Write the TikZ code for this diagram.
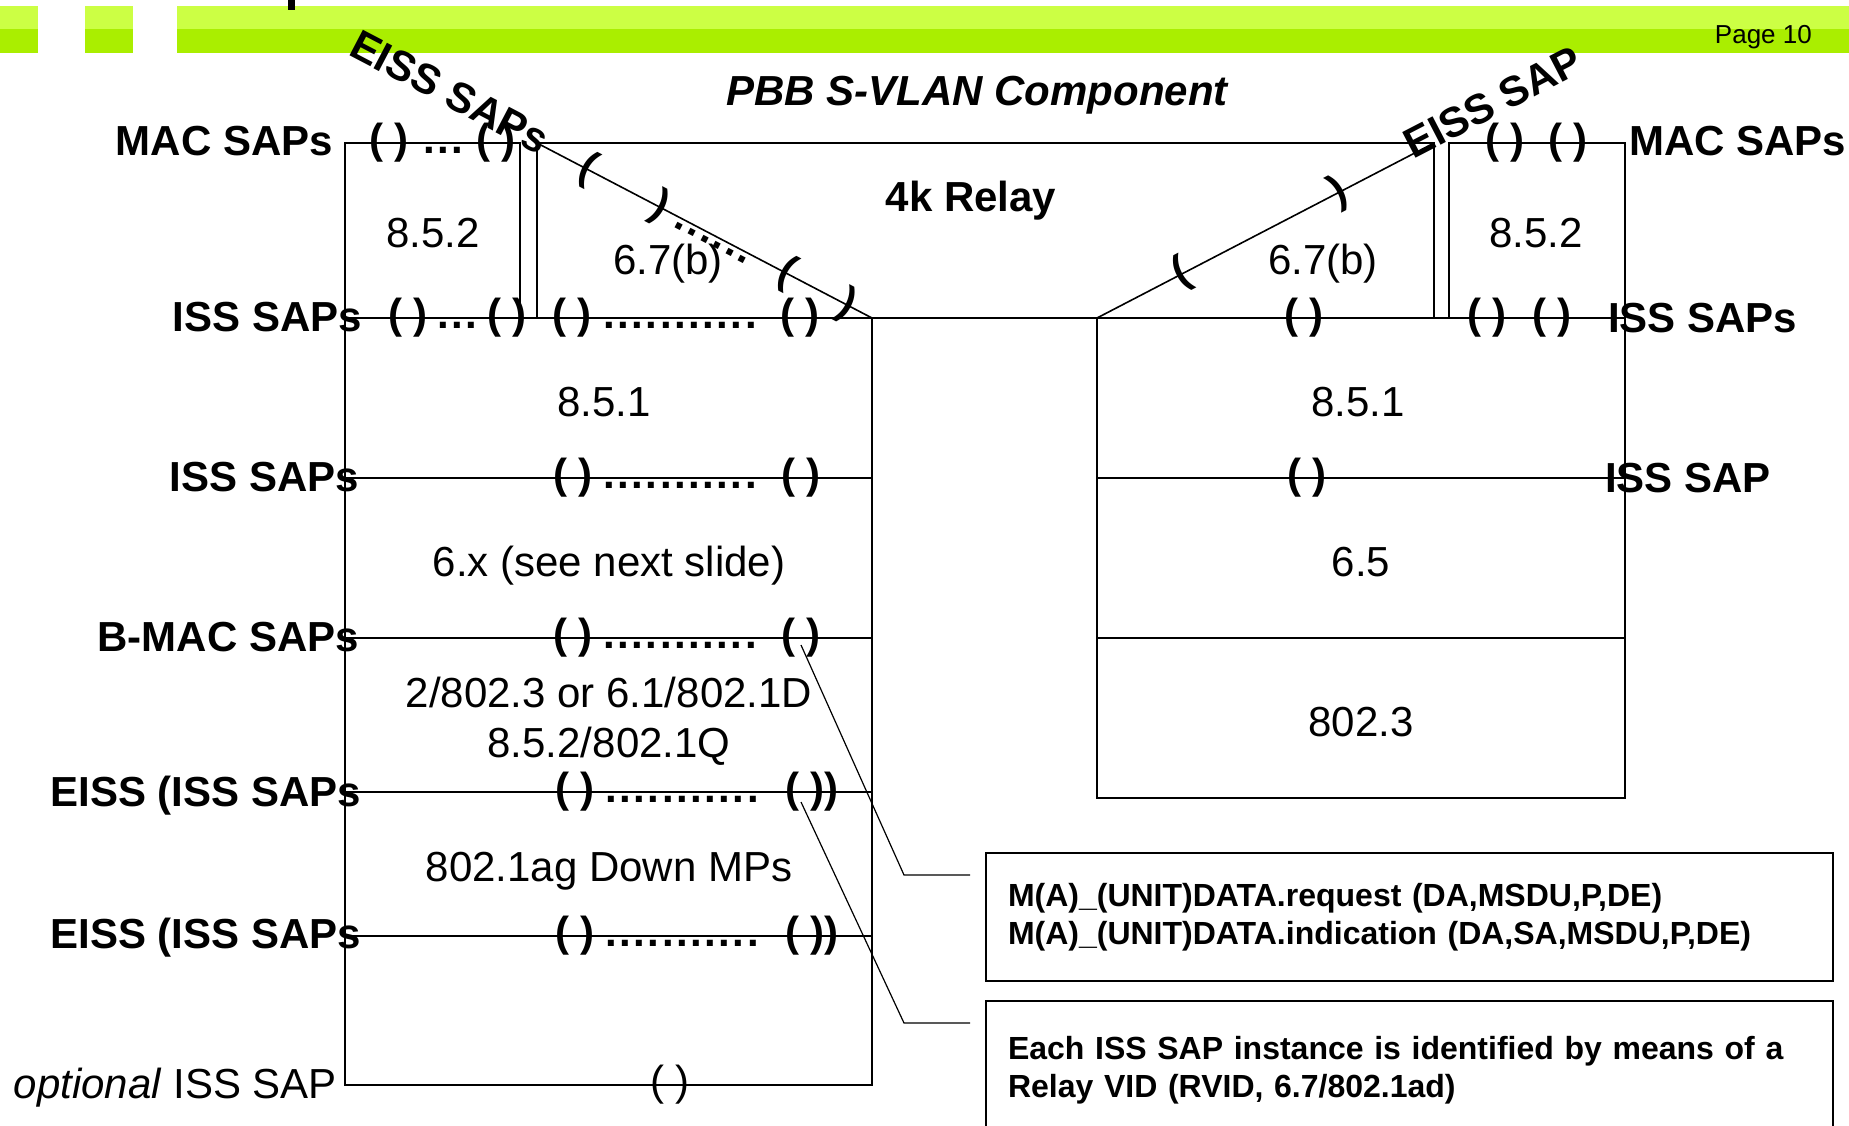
\documentclass[tikz,border=0pt]{standalone}
\usepackage{fontspec}
\setmainfont{Liberation Sans}
\usetikzlibrary{calc}
\definecolor{BarLime}{RGB}{204,255,68}
\definecolor{BarGreen}{RGB}{170,238,0}
\newcommand{\sapdots}[1]{\vphantom{(}.\foreach \k in {2,...,#1}{\kern2.5pt.}}

\begin{document}
\begin{tikzpicture}[x=1pt, y=-1pt,
	lbl/.style={font=\fontsize{42}{50}\selectfont\bfseries, inner sep=0pt},
	txt/.style={font=\fontsize{42}{50}\selectfont, inner sep=0pt},
	sap/.style={font=\fontsize{42}{50}\selectfont\bfseries, inner sep=0pt},
	ln/.style={line width=2.2pt},
	dg/.style={line width=1.6pt},
	cl/.style={line width=1.2pt},
	note/.style={draw, line width=2pt, anchor=north west, align=left,
		font=\fontsize{32}{37.7}\selectfont\bfseries, text width=803pt,
		inner xsep=22pt, inner ysep=0pt}]

	\useasboundingbox (0,0) rectangle (1849,1125);
	\clip (0,0) rectangle (1849,1125);

	% kopfleiste
	\foreach \a/\b in {0/38, 85/133, 177/1849}{
		\fill[BarLime] (\a,6) rectangle (\b,29);
		\fill[BarGreen] (\a,29) rectangle (\b,53);}
	\fill (288,0) rectangle (295,10);
	\node[txt, font=\fontsize{26}{30}\selectfont, anchor=base east] (page) at (1812,43) {Page 10};

	% relay-ecken
	\coordinate (rlNW) at (537,143);
	\coordinate (rlNE) at (1434,143);
	\coordinate (rlSW) at (872,318);
	\coordinate (rlSE) at (1097,318);

	% kaesten
	\draw[ln] (345,318) -- (345,143) -- (520,143) -- (520,318);
	\draw[ln] (537,318) -- (rlNW) -- (rlNE) -- (1434,318);
	\draw[ln] (1449,318) -- (1449,143) -- (1625,143) -- (1625,798) -- (1097,798) -- (rlSE);
	\draw[ln] (345,318) -- (1625,318);
	\draw[ln] (345,318) -- (345,1085) -- (872,1085) -- (rlSW);
	\foreach \y in {478, 638, 792, 936}{\draw[ln] (345,\y) -- (872,\y);}
	\foreach \y in {478, 638}{\draw[ln] (1097,\y) -- (1625,\y);}

	% schraege EISS-Zugaenge
	\draw[dg] (rlNW) -- (rlSW)
		node[sap, sloped, pos=0.152] (dlA) {(}
		node[sap, sloped, pos=0.367] (dlB) {)}
		node[sap, sloped, pos=0.53] (dlD) {\sapdots{6}}
		node[sap, sloped, pos=0.746] (dlC) {(}
		node[sap, sloped, pos=0.925] (dlE) {)};
	\draw[dg] (rlSE) -- (rlNE)
		node[sap, sloped, pos=0.252] (drA) {(}
		node[sap, sloped, pos=0.716] (drB) {)};
	\node[lbl, rotate=-27.6] (eissL) at (450,92) {EISS SAPs};
	\node[lbl, rotate=27.4] (eissR) at (1493,102) {EISS SAP};

	% titel und schichten
	\node[lbl, font=\fontsize{42}{50}\selectfont\bfseries\itshape, anchor=base] (title) at (977,105) {PBB S-VLAN Component};
	\node[lbl, anchor=base] (relay) at (971,211) {4k Relay};
	\foreach \n/\x/\y/\t in {lA/433/247/8.5.2, lB/668/274/6.7(b), rB/1323/274/6.7(b), rA/1536/247/8.5.2,
		lC/604/416/8.5.1, rC/1358/416/8.5.1, lE/609/576/6.x (see next slide), rE/1361/576/6.5,
		lF/609/707/2\slash 802.3 or 6.1\slash 802.1D, lG/609/757/8.5.2\slash 802.1Q,
		rF/1361/736/802.3, lH/609/881/802.1ag Down MPs}
		{\node[txt, anchor=base] (\n) at (\x,\y) {\t};}

	% SAP-Beschriftungen
	\foreach \n/\x/\y/\t in {mL/333/155/MAC SAPs, iL/362/331/ISS SAPs, jL/359/491/ISS SAPs,
		bL/359/651/B-MAC SAPs, eL/361/806/EISS (ISS SAPs, fL/361/948/EISS (ISS SAPs}
		{\node[lbl, anchor=base east] (\n) at (\x,\y) {\t};}
	\node[txt, anchor=base east] (oL) at (337,1098) {\textit{optional} ISS SAP};
	\node[lbl, anchor=base west] (mR) at (1629,155) {MAC SAPs};
	\node[lbl, anchor=base west] (iR) at (1608,332) {ISS SAPs};
	\node[lbl, anchor=base west] (jR) at (1605,492) {ISS SAP};

	% SAP-Klammern
	\foreach \n/\x/\y in {macA/389/143, macB/496/143, issA/408/318, issB/507/318, issC/572/318,
		issD/800/318, relA/573/478, relB/801/478, bmacL/573/638, bmacR/801/638,
		eissaL/575/792, eissbL/575/936, rmacA/1505/143, rmacB/1568/143,
		rissA/1304/318, rissB/1487/318, rissC/1552/318, rsapS/1307/478}
		{\node[sap] (\n) at (\x,\y) {( )};}
	\node[sap] (eissaR) at (812,792) {( ))};
	\node[sap] (eissbR) at (812,936) {( ))};
	\node[txt] (optS) at (670,1085) {( )};
	\node[sap] (macD) at (443,143) {\sapdots{3}};
	\node[sap] (issE) at (457,318) {\sapdots{3}};
	\foreach \n/\x/\y in {issF/680/318, relD/680/478, bmacD/680/638, eissaD/682/792, eissbD/682/936}
		{\node[sap] (\n) at (\x,\y) {\sapdots{11}};}

	% hinweise
	\node[note, minimum height=128pt] (req) at (985,852)
		{M(A)\_(UNIT)DATA.request (DA,MSDU,P,DE)\\M(A)\_(UNIT)DATA.indication (DA,SA,MSDU,P,DE)};
	\node[note, minimum height=138pt] (rid) at (985,1000)
		{Each ISS SAP instance is identified by means of a\\Relay VID (RVID, 6.7/802.1ad)};
	\coordinate (reqbend) at (904,875);
	\coordinate (reqend) at (970,875);
	\coordinate (ridbend) at (904,1023);
	\coordinate (ridend) at (970,1023);
	\draw[cl] ([yshift=-7pt]bmacR.center) -- (reqbend) -- (reqend);
	\draw[cl] ([xshift=-11pt, yshift=-10pt]eissaR.center) -- (ridbend) -- (ridend);
\end{tikzpicture}
\end{document}
